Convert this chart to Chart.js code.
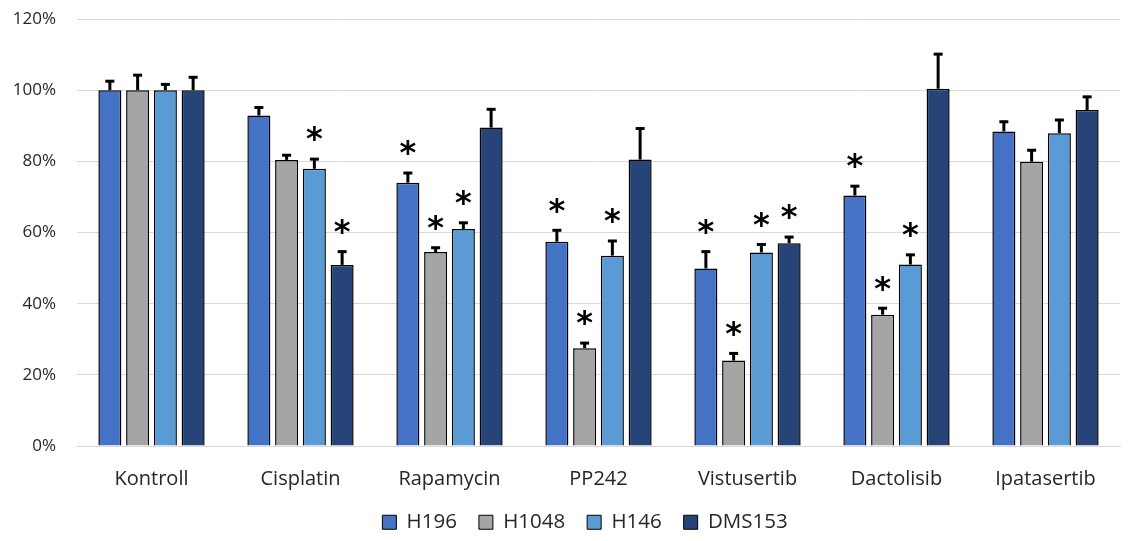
<!DOCTYPE html>
<html>
<head>
<meta charset="utf-8">
<script src="https://cdn.jsdelivr.net/npm/chart.js@4.4.1/dist/chart.umd.min.js"></script>
<style>
  html, body { margin: 0; padding: 0; background: #fff; }
  #wrap { width: 1133px; height: 541px; }
</style>
</head>
<body>
<div id="wrap"><canvas id="chart"></canvas></div>
<script>
// --- Data ---
const categories = ['Kontroll', 'Cisplatin', 'Rapamycin', 'PP242', 'Vistusertib', 'Dactolisib', 'Ipatasertib'];
const yTicks = [0, 20, 40, 60, 80, 100, 120];

const h196   = [100, 92.9, 74.0, 57.4, 49.9, 70.4, 88.4];
const h1048  = [100, 80.4, 54.5, 27.5, 24.0, 36.9, 79.9];
const h146   = [100, 77.9, 61.0, 53.5, 54.4, 51.0, 87.9];
const dms153 = [100, 50.9, 89.5, 80.5, 57.0, 100.4, 94.4];

const h196Err   = [2.8, 2.5, 3.0, 3.5, 5.0, 2.9, 3.0];
const h1048Err  = [4.5, 1.6, 1.5, 1.7, 2.3, 2.1, 3.5];
const h146Err   = [1.9, 3.0, 2.0, 4.4, 2.5, 3.0, 4.0];
const dms153Err = [3.9, 4.0, 5.4, 9.0, 2.0, 10.0, 4.0];

// significance stars (1 = *)
const h196Sig   = [0, 0, 1, 1, 1, 1, 0];
const h1048Sig  = [0, 0, 1, 1, 1, 1, 0];
const h146Sig   = [0, 1, 1, 1, 1, 1, 0];
const dms153Sig = [0, 1, 0, 0, 1, 0, 0];

const textColor = '#262626';
const fontFamily = "'Open Sans', 'Noto Sans', sans-serif";

function series(label, data, err, sig, color) {
    return {
        label, data, err, sig,
        backgroundColor: color,
        borderColor: '#000',
        borderWidth: 1.5,
        borderSkipped: 'bottom',
        categoryPercentage: 0.745,
        barPercentage: 0.83
    };
}

// --- error bars + stars drawn on top of the bars ---
const errorBars = {
    id: 'errorBars',
    afterDatasetsDraw(chart) {
        const ctx = chart.ctx;
        const yScale = chart.scales.y;
        ctx.save();
        chart.data.datasets.forEach((ds, di) => {
            const meta = chart.getDatasetMeta(di);
            meta.data.forEach((bar, i) => {
                const top = yScale.getPixelForValue(ds.data[i] + ds.err[i]);
                ctx.strokeStyle = '#000';
                ctx.lineWidth = 3;
                ctx.beginPath();
                ctx.moveTo(bar.x, bar.y);
                ctx.lineTo(bar.x, top);
                ctx.stroke();
                ctx.beginPath();
                ctx.moveTo(bar.x - 4.5, top + 1);
                ctx.lineTo(bar.x + 4.5, top + 1);
                ctx.stroke();
                if (ds.sig[i]) {
                    ctx.fillStyle = '#000';
                    ctx.font = "bold 32px 'DejaVu Sans', sans-serif";
                    ctx.textAlign = 'center';
                    ctx.textBaseline = 'middle';
                    ctx.fillText('*', bar.x, top - 17);
                }
            });
        });
        ctx.restore();
    }
};

// legend: wide gaps between items, fixed block height, centred a bit right
const legendHeight = {
    id: 'legendHeight',
    afterInit(chart) {
        const lg = chart.legend;
        if (!lg) return;
        const fit = lg.fit;
        lg.fit = function () {
            fit.call(this);
            this.height = 51;
        };
    },
    afterLayout(chart) {
        const lg = chart.legend;
        if (!lg) return;
        lg.left += 25;
        lg.right += 25;
    }
};

new Chart(document.getElementById('chart'), {
    type: 'bar',
    data: {
        labels: categories,
        datasets: [
            series('H196', h196, h196Err, h196Sig, '#4472C4'),
            series('H1048', h1048, h1048Err, h1048Sig, '#A5A5A5'),
            series('H146', h146, h146Err, h146Sig, '#5B9BD5'),
            series('DMS153', dms153, dms153Err, dms153Sig, '#264478')
        ]
    },
    options: {
        responsive: true,
        maintainAspectRatio: false,
        animation: false,
        layout: { padding: { top: 19, right: 13, left: 0, bottom: 0 } },
        plugins: {
            tooltip: { enabled: false },
            legend: {
                position: 'bottom',
                labels: {
                    boxWidth: 14,
                    boxHeight: 14,
                    padding: 22,
                    color: textColor,
                    font: { family: fontFamily, size: 20.5 },
                    generateLabels(chart) {
                        return chart.data.datasets.map((ds, i) => ({
                            text: ds.label,
                            fillStyle: ds.backgroundColor,
                            strokeStyle: '#000',
                            lineWidth: 1,
                            fontColor: textColor,
                            datasetIndex: i
                        }));
                    }
                }
            }
        },
        scales: {
            x: {
                grid: { display: false },
                border: { color: '#d9d9d9', width: 1 },
                afterFit(scale) { scale.height = 44; },
                ticks: {
                    color: textColor,
                    padding: 13,
                    font: { family: fontFamily, size: 20 }
                }
            },
            y: {
                min: 0,
                max: 120,
                afterBuildTicks(scale) {
                    scale.ticks = yTicks.map(v => ({ value: v }));
                },
                afterFit(scale) {
                    scale.width = 77;
                    scale.paddingTop = 0;
                    scale.paddingBottom = 0;
                },
                grid: { color: '#d9d9d9', lineWidth: 1, drawTicks: false },
                border: { display: false },
                ticks: {
                    color: textColor,
                    padding: 21,
                    font: { family: fontFamily, size: 17 },
                    callback: v => v + '%'
                }
            }
        }
    },
    plugins: [errorBars, legendHeight]
});
</script>
</body>
</html>
